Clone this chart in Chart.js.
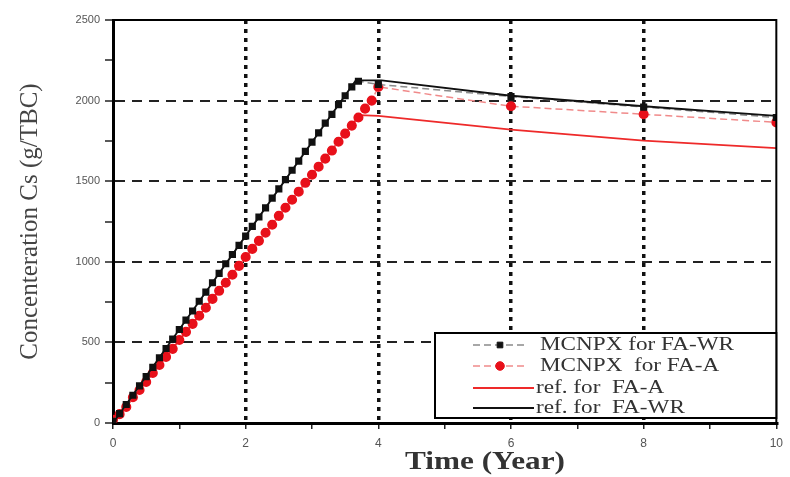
<!DOCTYPE html>
<html>
<head>
<meta charset="utf-8">
<script src="https://cdn.jsdelivr.net/npm/chart.js@4.4.0/dist/chart.umd.min.js"></script>
<style>
  html, body { margin: 0; padding: 0; background: #fff; }
</style>
</head>
<body>
<canvas id="myChart" width="790" height="477"></canvas>
<script>
// MCNPX for FA-WR (black squares)
const timeWR = [0, 0.1, 0.2, 0.3, 0.4, 0.5, 0.6, 0.7, 0.8, 0.9, 1.0, 1.1, 1.2, 1.3, 1.4, 1.5, 1.6, 1.7, 1.8, 1.9,
  2.0, 2.1, 2.2, 2.3, 2.4, 2.5, 2.6, 2.7, 2.8, 2.9, 3.0, 3.1, 3.2, 3.3, 3.4, 3.5, 3.6, 3.7, 4, 6, 8, 10];
const mcnpxWR = [10, 58, 115, 172, 230, 288, 345, 405, 462, 520, 580, 638, 695, 755, 812, 870, 928, 988, 1045, 1102,
  1160, 1220, 1278, 1335, 1395, 1452, 1510, 1568, 1625, 1685, 1742, 1800, 1860, 1915, 1975, 2030, 2085, 2120, 2100, 2025, 1960, 1895];

// MCNPX for FA-A (red circles)
const timeA = [0, 0.1, 0.2, 0.3, 0.4, 0.5, 0.6, 0.7, 0.8, 0.9, 1.0, 1.1, 1.2, 1.3, 1.4, 1.5, 1.6, 1.7, 1.8, 1.9,
  2.0, 2.1, 2.2, 2.3, 2.4, 2.5, 2.6, 2.7, 2.8, 2.9, 3.0, 3.1, 3.2, 3.3, 3.4, 3.5, 3.6, 3.7, 3.8, 3.9, 4, 6, 8, 10];
const mcnpxA = [20, 55, 100, 160, 205, 255, 310, 360, 410, 460, 515, 565, 615, 665, 715, 770, 820, 870, 920, 975,
  1030, 1080, 1130, 1180, 1230, 1285, 1335, 1385, 1435, 1490, 1540, 1590, 1640, 1690, 1745, 1795, 1845, 1895, 1950, 2000, 2085, 1965, 1915, 1865];

// reference curves
const refTimeA = [0, 3.72, 4.0, 6, 8, 10];
const refA = [0, 1910, 1905, 1820, 1752, 1705];
const refTimeWR = [0, 3.66, 4.05, 6, 8, 10];
const refWR = [0, 2125, 2125, 2030, 1965, 1905];

const xTicks = [0, 2, 4, 6, 8, 10];
const yTicks = [0, 500, 1000, 1500, 2000, 2500];
const seriesNames = ["MCNPX for FA-WR", "MCNPX  for FA-A", "ref. for  FA-A", "ref. for  FA-WR"];

const toXY = (xs, ys) => xs.map((x, i) => ({ x: x, y: ys[i] }));
const clear = "rgba(0,0,0,0)";

// black frame on top / right
const framePlugin = {
  id: "frame",
  afterDraw(chart) {
    const { ctx, chartArea: a } = chart;
    ctx.save();
    ctx.strokeStyle = "#000";
    ctx.lineWidth = 2;
    ctx.beginPath();
    ctx.moveTo(a.left, a.top);
    ctx.lineTo(a.right, a.top);
    ctx.lineTo(a.right, a.bottom);
    ctx.stroke();
    ctx.restore();
  },
};

function stretchText(ctx, text, x, y, sx) {
  ctx.save();
  ctx.translate(x, y);
  ctx.scale(sx, 1);
  ctx.fillText(text, 0, 0);
  ctx.restore();
}

// axis titles
const titlePlugin = {
  id: "titles",
  afterDraw(chart) {
    const { ctx, chartArea: a } = chart;
    ctx.save();
    ctx.fillStyle = "#333";
    ctx.textAlign = "center";
    ctx.textBaseline = "middle";
    ctx.font = "bold 25px 'Liberation Serif', 'Times New Roman', serif";
    stretchText(ctx, "Time (Year)", 485, 463, 1.25);
    ctx.translate(30, (a.top + a.bottom) / 2);
    ctx.rotate(-Math.PI / 2);
    ctx.fillStyle = "#444";
    ctx.font = "25px 'Liberation Serif', 'Times New Roman', serif";
    ctx.fillText("Concenteration Cs (g/TBC)", 0, 0);
    ctx.restore();
  },
};

// legend box inside the plot
const legendPlugin = {
  id: "boxLegend",
  afterDraw(chart) {
    const { ctx, chartArea: a } = chart;
    const left = 435, top = 333, right = a.right, bottom = 418;
    ctx.save();
    ctx.fillStyle = "#fff";
    ctx.fillRect(left, top, right - left, bottom - top);
    ctx.strokeStyle = "#000";
    ctx.lineWidth = 2;
    ctx.strokeRect(left, top, right - left, bottom - top);
    const rows = [345, 366, 388, 408];
    const sets = chart.data.datasets;
    seriesNames.forEach((name, i) => {
      const ds = sets.find((d) => d.label === name);
      const y = rows[i];
      ctx.save();
      ctx.strokeStyle = ds.borderColor;
      ctx.lineWidth = ds.borderWidth;
      ctx.setLineDash(ds.borderDash || []);
      ctx.beginPath();
      ctx.moveTo(473, y);
      ctx.lineTo(ds.pointRadius ? 527 : 534, y);
      ctx.stroke();
      ctx.restore();
      if (ds.pointRadius) {
        ctx.fillStyle = ds.pointBackgroundColor;
        ctx.strokeStyle = ds.pointBorderColor;
        ctx.lineWidth = 1;
        Chart.helpers.drawPoint(ctx, {
          pointStyle: ds.pointStyle,
          radius: ds.pointRadius,
          borderWidth: 1,
          rotation: 0,
        }, 500, y);
      }
      ctx.fillStyle = "#333";
      ctx.font = "19px 'Liberation Serif', 'Times New Roman', serif";
      ctx.textAlign = "left";
      ctx.textBaseline = "middle";
      stretchText(ctx, name, ds.pointRadius ? 540 : 536, y, 1.22);
    });
    ctx.restore();
  },
};

new Chart("myChart", {
  type: "line",
  data: {
    datasets: [
      {
        label: "ref. for  FA-WR",
        data: toXY(refTimeWR, refWR),
        borderColor: "#111",
        borderWidth: 1.8,
        pointRadius: 0,
        order: 0,
      },
      {
        label: "MCNPX for FA-WR",
        data: toXY(timeWR, mcnpxWR),
        borderColor: "#8a8a8a",
        borderWidth: 1.5,
        borderDash: [7, 4],
        pointStyle: "rect",
        pointRadius: 4,
        pointBackgroundColor: "#111",
        pointBorderColor: "#111",
        order: 1,
      },
      {
        label: "MCNPX  for FA-A",
        data: toXY(timeA, mcnpxA),
        borderColor: "#f08a8a",
        borderWidth: 1.5,
        borderDash: [7, 4],
        pointStyle: "circle",
        pointRadius: 4.3,
        pointBackgroundColor: "#e8101a",
        pointBorderColor: "#e8101a",
        order: 2,
      },
      {
        label: "ref. for  FA-A",
        data: toXY(refTimeA, refA),
        borderColor: "#ee2a2a",
        borderWidth: 1.8,
        pointRadius: 0,
        order: 3,
      },
    ],
  },
  options: {
    responsive: false,
    animation: false,
    layout: { padding: { top: 20, right: 12, left: 0, bottom: 0 } },
    plugins: {
      legend: { display: false },
      tooltip: { enabled: false },
    },
    elements: { line: { tension: 0 } },
    scales: {
      x: {
        type: "linear",
        min: 0,
        max: 10,
        afterFit(scale) { scale.height = 54; },
        ticks: {
          stepSize: 1,
          padding: 7,
          color: "#555",
          font: { family: "'Liberation Sans', Arial, sans-serif", size: 12 },
          callback: (v) => (xTicks.includes(v) ? String(v) : ""),
        },
        grid: {
          color: (c) => (c.tick && xTicks.includes(c.tick.value) && c.tick.value > 0 && c.tick.value < 10 ? "#111" : clear),
          lineWidth: 3.5,
          tickColor: "#222",
          tickLength: 6,
          tickWidth: 1.5,
        },
        border: { display: true, color: "#000", width: 3, dash: [4, 5] },
      },
      y: {
        min: 0,
        max: 2500,
        afterFit(scale) { scale.width = 113; },
        ticks: {
          stepSize: 250,
          padding: 5,
          color: "#555",
          font: { family: "'Liberation Sans', Arial, sans-serif", size: 11 },
          callback: (v) => (yTicks.includes(v) ? String(v) : ""),
        },
        grid: {
          color: (c) => (c.tick && yTicks.includes(c.tick.value) && c.tick.value > 0 && c.tick.value < 2500 ? "#222" : clear),
          lineWidth: 2,
          tickColor: "#222",
          tickLength: 8,
          tickWidth: 1.5,
        },
        border: { display: true, color: "#000", width: 3, dash: [10, 7] },
      },
    },
  },
  plugins: [framePlugin, titlePlugin, legendPlugin],
});
</script>
</body>
</html>
